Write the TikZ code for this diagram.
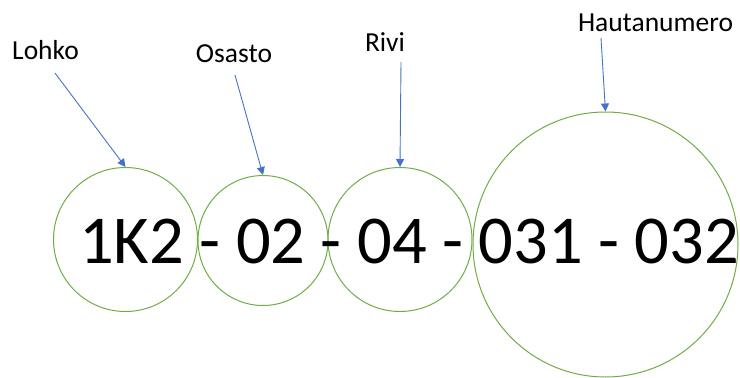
\documentclass[tikz,border=0pt]{standalone}
\usepackage{fontspec}
\setmainfont{Carlito}
\usetikzlibrary{arrows.meta}
\definecolor{ringgreen}{HTML}{70AD47}
\definecolor{arrowblue}{HTML}{4472C4}
\tikzstyle{ring}=[circle,draw=ringgreen,line width=1pt,inner sep=0pt]
\tikzstyle{tag}=[anchor=base,inner sep=0pt,font=\fontsize{27.5}{32}\selectfont]
\tikzstyle{pointer} = [draw,arrowblue,line width=0.9pt,-{Triangle[length=8pt,width=8pt]}]
\tikzstyle{bignum} = [anchor=base,inner sep=0pt,font=\fontsize{68.5}{80}\selectfont]

\begin{document}
\begin{tikzpicture}[x=1pt,y=-1pt]
	\useasboundingbox (0,0) rectangle (740,378);

	% First the circles round the parts
	\foreach \pos/\size/\name in {{(125.5,239.5)/144/c1}, {(263,240.5)/130/c2},
								{(400,239.5)/144/c3}, {(605.5,244.5)/265/c4}}
	\node[ring,minimum size=\size pt] (\name) at \pos {};

	% The number itself
	\node[bignum] (num) at (409,263) {1K2 - 02 - 04 - 031 - 032};

	% Labels and their tails
	\foreach \pos/\tail/\name/\text in {{(45.5,59)/(55,73)/lohko/Lohko}, {(234,62)/(235,75)/osasto/Osasto},
								{(385,51)/(401,62)/rivi/Rivi}, {(655.5,31)/(601,38)/hauta/Hautanumero}}
	{
		\node[tag] (\name) at \pos {\text};
		\path \tail coordinate (\name-t);
	}

	% Connect labels with circles
	\foreach \source/\dest in {lohko/c1, osasto/c2, rivi/c3, hauta/c4}
	\path[pointer] (\source-t) -- (\dest.north);
\end{tikzpicture}
\end{document}
